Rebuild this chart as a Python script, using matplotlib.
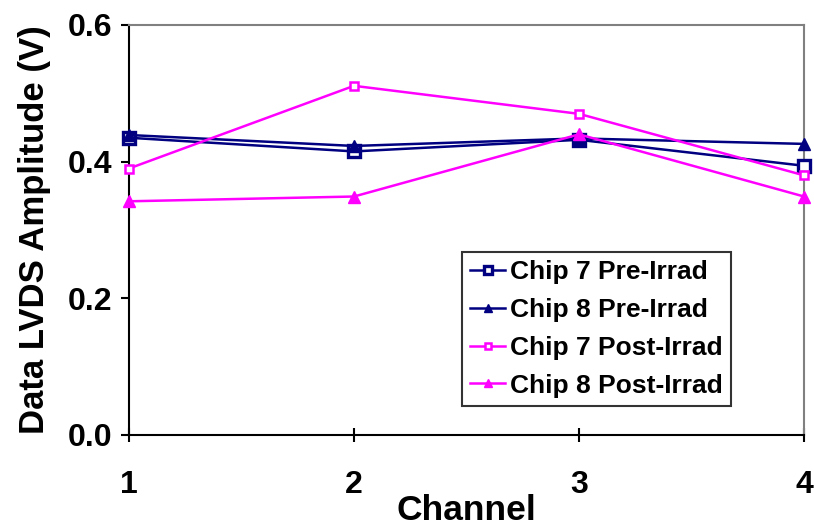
import matplotlib
matplotlib.use("Agg")
import matplotlib.pyplot as plt
from matplotlib.ticker import FormatStrFormatter

plt.rcParams['font.family'] = ['Liberation Sans', 'DejaVu Sans']
plt.rcParams['font.weight'] = 'bold'

channels = [1, 2, 3, 4]
chip7_pre = [0.435, 0.415, 0.432, 0.394]
chip8_pre = [0.439, 0.423, 0.434, 0.426]
chip7_post = [0.390, 0.511, 0.470, 0.380]
chip8_post = [0.342, 0.349, 0.440, 0.349]
labels = ["Chip 7 Pre-Irrad", "Chip 8 Pre-Irrad", "Chip 7 Post-Irrad", "Chip 8 Post-Irrad"]
yticks = [0.0, 0.2, 0.4, 0.6]

navy = '#000080'
magenta = '#FF00FF'

fig = plt.figure(figsize=(8.14, 5.30), dpi=100)
ax = fig.add_axes([129/814, 1-435/530, (804-129)/814, (435-25)/530])

ax.plot(channels, chip7_pre, color=navy, lw=1.8, marker='s', ms=8, mfc='white', mec=navy, mew=2.4, label=labels[0], clip_on=False, zorder=3)
ax.plot(channels, chip8_pre, color=navy, lw=1.8, marker='^', ms=8, mfc=navy, mec=navy, label=labels[1], clip_on=False, zorder=3)
ax.plot(channels, chip7_post, color=magenta, lw=1.8, marker='s', ms=6, mfc='white', mec=magenta, mew=1.8, label=labels[2], clip_on=False, zorder=3)
ax.plot(channels, chip8_post, color=magenta, lw=1.8, marker='^', ms=8, mfc=magenta, mec=magenta, label=labels[3], clip_on=False, zorder=3)

ax.set_xlim(1, 4)
ax.set_ylim(0, 0.6)
ax.set_xticks(channels)
ax.set_yticks(yticks)
ax.yaxis.set_major_formatter(FormatStrFormatter('%.1f'))

for s in ['top', 'right']:
    ax.spines[s].set_color('#808080')
    ax.spines[s].set_linewidth(1.5)
for s in ['left', 'bottom']:
    ax.spines[s].set_color('black')
    ax.spines[s].set_linewidth(1.5)

ax.tick_params(axis='y', direction='out', length=6, width=1.5, labelsize=23, pad=6)
ax.tick_params(axis='x', direction='inout', length=10, width=1.5, labelsize=23, pad=20)
for t in ax.get_xticklabels() + ax.get_yticklabels():
    t.set_fontweight('bold')

ax.set_xlabel('Channel', fontsize=25.5, fontweight='bold', labelpad=-4)
ax.set_ylabel('Data LVDS Amplitude (V)', fontsize=25, fontweight='bold', labelpad=12)

leg = ax.legend(loc='upper left', bbox_to_anchor=((462-129)/675, 1-(252-25)/410),
                fontsize=19, frameon=True, fancybox=False, handlelength=1.3,
                handletextpad=0.2, labelspacing=0.52, borderpad=0.32, borderaxespad=0,
                markerscale=0.7)
leg.get_frame().set_edgecolor('black')
leg.get_frame().set_linewidth(1.5)
for t in leg.get_texts():
    t.set_fontweight('bold')

fig.savefig('out.png', dpi=100)
